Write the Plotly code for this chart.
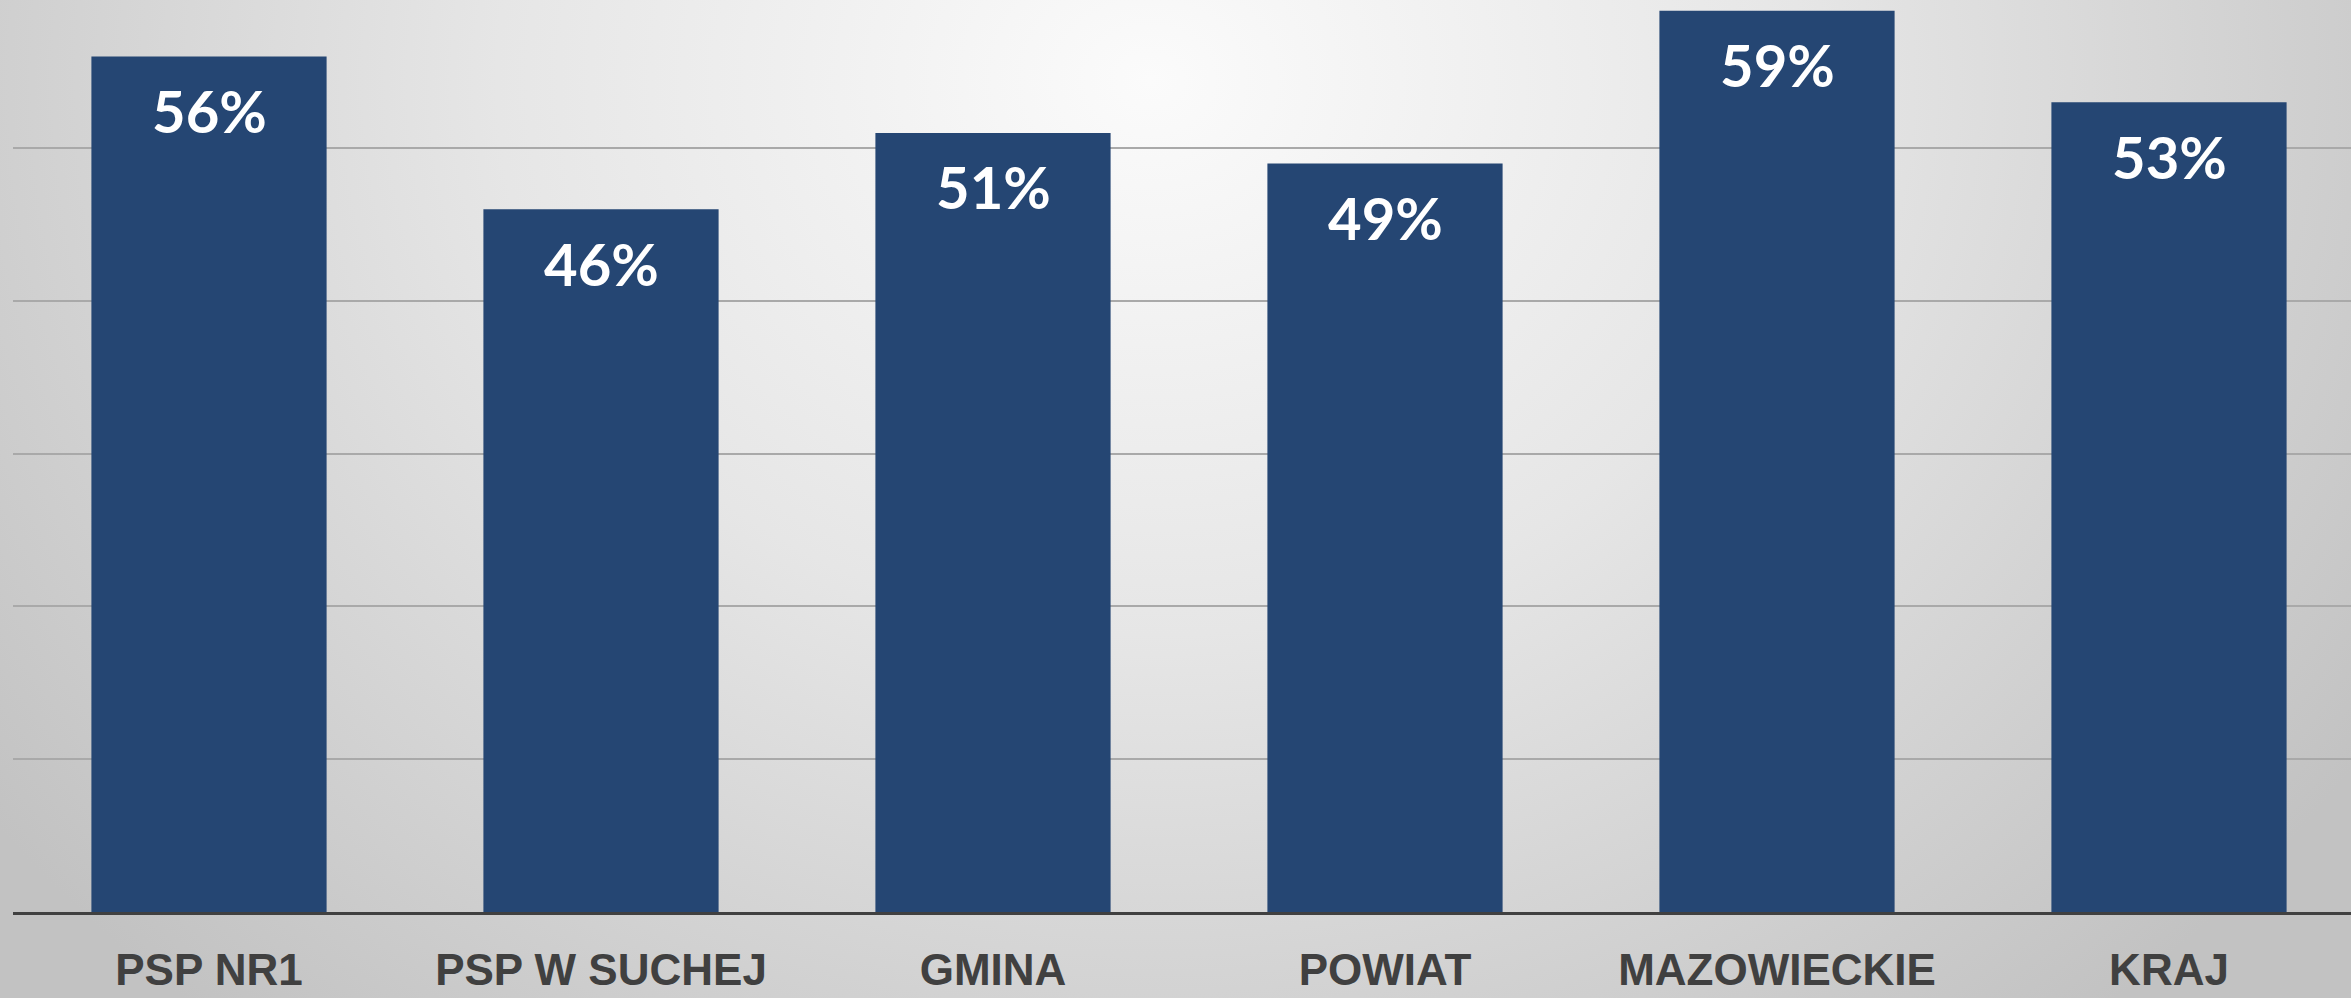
import base64
import plotly.graph_objects as go

categories = ["PSP NR1", "PSP W SUCHEJ", "GMINA", "POWIAT", "MAZOWIECKIE", "KRAJ"]
values = [56, 46, 51, 49, 59, 53]
value_labels = ["56%", "46%", "51%", "49%", "59%", "53%"]

W, H = 2351, 998
ML, MB = 13, 86
plot_w, plot_h = W - ML, H - MB

bar_color = "#254673"

svg = f"""<svg xmlns='http://www.w3.org/2000/svg' width='{W}' height='{H}' viewBox='0 0 {W} {H}'>
<defs><radialGradient id='g' gradientUnits='userSpaceOnUse' cx='1150' cy='80' r='1450' gradientTransform='translate(1150 80) scale(1 0.85) translate(-1150 -80)'>
<stop offset='0' stop-color='#fbfbfb'/>
<stop offset='0.45' stop-color='#e6e6e6'/>
<stop offset='1' stop-color='#c2c2c2'/>
</radialGradient></defs>
<rect width='{W}' height='{H}' fill='url(#g)'/></svg>"""
src = "data:image/svg+xml;base64," + base64.b64encode(svg.encode()).decode()

fig = go.Figure()
fig.add_trace(go.Bar(
    x=categories, y=values,
    marker=dict(color=bar_color, line=dict(width=0)),
    hoverinfo="skip",
))

for c, v, t in zip(categories, values, value_labels):
    fig.add_annotation(
        x=c, y=v, text=t, showarrow=False,
        yanchor="middle", yshift=-54,
        font=dict(family="Lato", size=58, color="white", weight="bold"),
    )

fig.add_layout_image(
    source=src, xref="paper", yref="paper",
    x=-ML / plot_w, y=1.0, sizex=W / plot_w, sizey=H / plot_h,
    xanchor="left", yanchor="top", sizing="stretch", layer="below",
)

fig.update_layout(
    width=W, height=H,
    margin=dict(l=ML, r=0, t=0, b=MB, autoexpand=False),
    paper_bgcolor="#d0d0d0",
    plot_bgcolor="rgba(0,0,0,0)",
    bargap=0.4,
    showlegend=False,
    xaxis=dict(
        range=[-0.5, -0.5 + plot_w / 392.0],
        automargin=False,
        showgrid=False, zeroline=False,
        showline=True, linecolor="#404040", linewidth=3,
        ticks="", ticklabelstandoff=17,
        tickfont=dict(family="Liberation Sans", size=44, color="#404040", weight="bold"),
    ),
    yaxis=dict(
        range=[0, 59.7], dtick=10, automargin=False,
        showgrid=True, gridcolor="#a9a9a9", gridwidth=2,
        zeroline=False, showticklabels=False, ticks="",
    ),
)

post = (
    "var h=document.documentElement,b=document.body;"
    "h.style.margin='0';h.style.padding='0';h.style.overflow='hidden';h.style.height='998px';"
    "b.style.margin='0';b.style.padding='0';b.style.overflow='hidden';b.style.height='998px';"
    "b.style.lineHeight='0';"
)

fig.write_html(
    "out.html",
    config={"displayModeBar": False, "staticPlot": True},
    post_script=post,
)
